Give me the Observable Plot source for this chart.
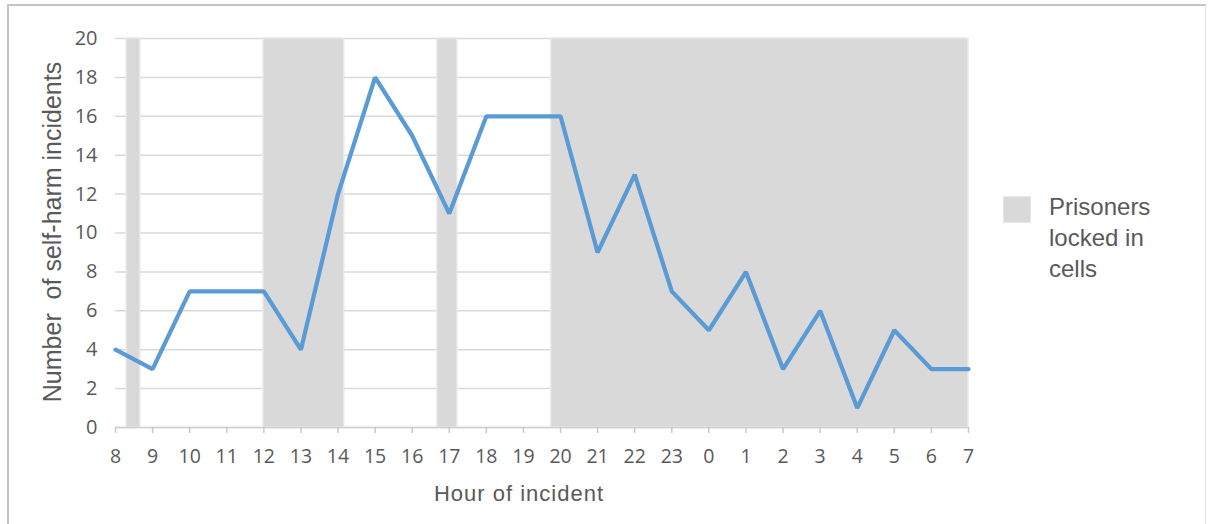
<!DOCTYPE html>
<html>
<head>
<meta charset="utf-8">
<script src="https://cdn.jsdelivr.net/npm/d3@7"></script>
<script src="https://cdn.jsdelivr.net/npm/@observablehq/plot@0.6"></script>
<style>
  html, body { margin: 0; padding: 0; background: #fff; }
  #wrap { position: relative; width: 1208px; height: 524px; overflow: hidden; }
  #frame { position: absolute; left: 7px; top: 4px; width: 1199px; height: 540px;
           border-left: 2px solid #c4c4c4; border-top: 2px solid #c4c4c4; border-right: 1px solid #e2e2e2; box-sizing: border-box; }
  #chart { position: absolute; left: 0; top: 0; }
  #legend { position: absolute; left: 1003px; top: 195px; font-family: "Liberation Sans", Arial, sans-serif;
            font-size: 24px; line-height: 31px; color: #595959; }
  #legend .sw { position: absolute; left: 0; top: 1px; width: 26px; height: 25px; background: #d9d9d9; border: 1px solid #e8e8e8; }
  #legend .tx { position: absolute; left: 46px; top: -4px; width: 150px; }
</style>
</head>
<body>
<div id="wrap">
  <div id="frame"></div>
  <div id="chart"></div>
  <div id="legend"><div class="sw"></div><div class="tx">Prisoners<br>locked in<br>cells</div></div>
</div>
<script>
// Hour labels (categories, in order along the x axis)
const hours = ["8","9","10","11","12","13","14","15","16","17","18","19","20","21","22","23","0","1","2","3","4","5","6","7"];
// Number of self-harm incidents per hour
const incidents = [4,3,7,7,7,4,12,18,15,11,16,16,16,9,13,7,5,8,3,6,1,5,3,3];
// Lock-up periods, in category positions (0 = hour 8)
const lockStart = [0.30, 3.99, 8.68, 11.75];
const lockEnd   = [0.67, 6.17, 9.22, 23];
// Y tick values
const yTicks = [0,2,4,6,8,10,12,14,16,18,20];
const yMax = 20;

const data = incidents.map((v, i) => ({i, hour: hours[i], v}));
const bands = lockStart.map((s, k) => ({x1: s, x2: lockEnd[k], y1: 0, y2: yMax}));

const chart = Plot.plot({
  width: 1208,
  height: 524,
  marginLeft: 115,
  marginRight: 240,
  marginTop: 38,
  marginBottom: 97,
  style: {background: "transparent", color: "#595959", overflow: "visible"},
  x: {type: "linear", domain: [0, hours.length - 1]},
  y: {domain: [0, yMax]},
  marks: [
    Plot.gridY(yTicks, {stroke: "#d9d9d9", strokeOpacity: 1, strokeWidth: 1.5}),
    Plot.rect(bands, {x1: "x1", x2: "x2", y1: "y1", y2: "y2", fill: "#d9d9d9", stroke: "#e9e9e9", strokeWidth: 1.5}),
    Plot.ruleY([0], {stroke: "#d0d0d0", strokeWidth: 1.5}),
    Plot.axisX(d3.range(hours.length), {
      tickFormat: i => hours[i], tickSize: 6, tickPadding: 16, stroke: "#c8c8c8", strokeWidth: 1.5,
      fontSize: 19.5, fontFamily: "'Open Sans', 'Liberation Sans', sans-serif", label: null
    }),
    Plot.axisY(yTicks, {
      tickSize: 0, tickPadding: 18, fontSize: 20, fontFamily: "'Open Sans', 'Liberation Sans', sans-serif", label: null
    }),
    Plot.line(data, {x: "i", y: "v", stroke: "#5b9bd5", strokeWidth: 4.25, strokeLinejoin: "miter"}),
    Plot.text(["Hour of incident"], {
      frameAnchor: "bottom", dx: -23, dy: 66, lineAnchor: "middle",
      fontSize: 22, fontFamily: "'Liberation Sans', Arial, sans-serif", fill: "#595959"
    }),
    Plot.text(["Number  of self-harm incidents"], {
      frameAnchor: "left", dx: -63, dy: -1, rotate: -90, lineAnchor: "middle", textAnchor: "middle",
      fontSize: 25, fontFamily: "'Liberation Sans', Arial, sans-serif", fill: "#595959"
    })
  ]
});
document.getElementById("chart").appendChild(chart);
// Slightly widen the x-axis title letter spacing to match the reference
d3.select(chart).selectAll("text").filter(function() { return this.textContent === "Hour of incident"; })
  .attr("letter-spacing", "1px");
d3.select(chart).selectAll("text").filter(function() { return this.textContent === "Number  of self-harm incidents"; })
  .style("white-space", "pre");
</script>
</body>
</html>
